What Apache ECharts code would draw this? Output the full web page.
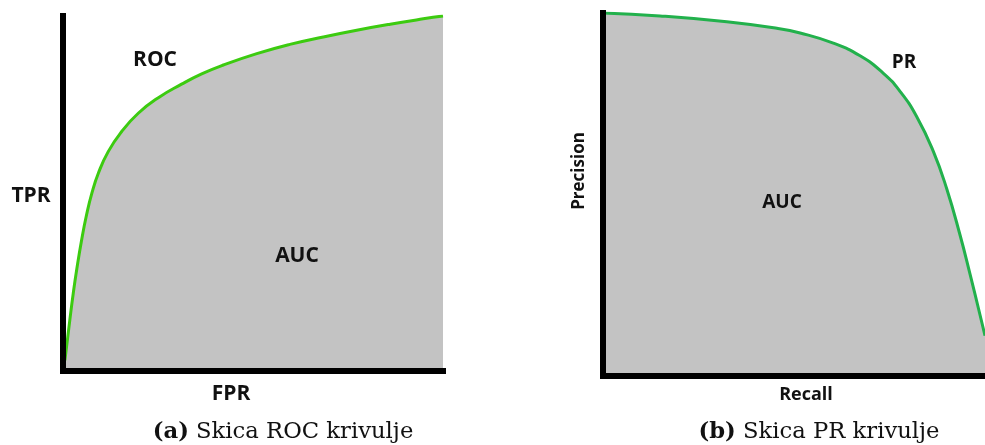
<!DOCTYPE html>
<html>
<head>
<meta charset="utf-8">
<script src="https://cdn.jsdelivr.net/npm/echarts@6/dist/echarts.min.js"></script>
<style>
html,body{margin:0;padding:0;background:#fff;}
#chart{width:985px;height:445px;}
</style>
</head>
<body>
<div id="chart"></div>
<script>
// ROC sketch (normalised 0..1)
const rocFPR = [0.005, 0.018, 0.027, 0.036, 0.049, 0.062, 0.076, 0.093, 0.119, 0.154, 0.198, 0.251, 0.312, 0.365, 0.422, 0.510, 0.597, 0.685, 0.773, 0.861, 0.948, 1.0];
const rocTPR = [0.03, 0.144, 0.219, 0.285, 0.369, 0.440, 0.501, 0.557, 0.618, 0.674, 0.726, 0.770, 0.808, 0.837, 0.862, 0.894, 0.920, 0.941, 0.960, 0.977, 0.992, 1.0];
// PR sketch (normalised 0..1)
const prRecall = [0.0, 0.149, 0.324, 0.455, 0.516, 0.603, 0.673, 0.734, 0.777, 0.821, 0.865, 0.900, 0.935, 0.961, 0.987, 1.0];
const prPrecision = [1.0, 0.992, 0.976, 0.958, 0.945, 0.917, 0.882, 0.834, 0.785, 0.715, 0.618, 0.515, 0.387, 0.280, 0.168, 0.111];

const rocLabels = {curve: 'ROC', area: 'AUC', x: 'FPR', y: 'TPR'};
const prLabels = {curve: 'PR', area: 'AUC', x: 'Recall', y: 'Precision'};
const captions = ['Skica ROC krivulje', 'Skica PR krivulje'];

const chart = echarts.init(document.getElementById('chart'));
const labelFont = 'Open Sans';
const captionFont = 'DejaVu Serif';

function axisCommon(gridIndex) {
  return {
    type: 'value', min: 0, max: 1, gridIndex: gridIndex, z: 10,
    axisLine: {show: true, onZero: false, lineStyle: {color: '#000', width: 6, cap: 'square'}},
    axisTick: {show: false}, axisLabel: {show: false}, splitLine: {show: false}
  };
}
function txt(x, y, text, size, rot) {
  return {
    type: 'text', x: x, y: y, rotation: rot || 0, z: 100,
    style: {text: text, fontFamily: labelFont, fontWeight: 'bold', fontSize: size, fill: '#111', align: 'center', verticalAlign: 'middle'}
  };
}
function caption(x, tag, text) {
  return {
    type: 'text', x: x, y: 432, z: 100,
    style: {
      text: '{b|' + tag + '} ' + text,
      fontFamily: captionFont, fontSize: 22.7, fill: '#111', align: 'center', verticalAlign: 'middle',
      rich: {b: {fontFamily: captionFont, fontWeight: 'bold', fontSize: 22.7, fill: '#111'}}
    }
  };
}

chart.setOption({
  animation: false,
  grid: [
    {left: 63, top: 16, width: 380, bottom: 74},
    {left: 603, top: 13, right: 0, bottom: 69}
  ],
  xAxis: [axisCommon(0), axisCommon(1)],
  yAxis: [axisCommon(0), axisCommon(1)],
  series: [
    {
      type: 'line', xAxisIndex: 0, yAxisIndex: 0, smooth: 0.5, symbol: 'none',
      data: rocFPR.map((v, i) => [v, rocTPR[i]]),
      lineStyle: {color: '#3ccb10', width: 3},
      areaStyle: {color: '#c3c3c3', opacity: 1}
    },
    {
      type: 'line', xAxisIndex: 1, yAxisIndex: 1, smooth: 0.5, symbol: 'none',
      data: prRecall.map((v, i) => [v, prPrecision[i]]),
      lineStyle: {color: '#22b14c', width: 3},
      areaStyle: {color: '#c3c3c3', opacity: 1}
    }
  ],
  graphic: [
    txt(155, 60, rocLabels.curve, 21),
    txt(297, 256, rocLabels.area, 21),
    txt(231, 394, rocLabels.x, 21),
    txt(31, 196, rocLabels.y, 21),
    txt(904, 63, prLabels.curve, 19),
    txt(782, 203, prLabels.area, 19),
    txt(806, 395, prLabels.x, 18),
    txt(579, 171, prLabels.y, 17, Math.PI / 2),
    caption(283, '(a)', captions[0]),
    caption(819, '(b)', captions[1])
  ]
});
</script>
</body>
</html>
